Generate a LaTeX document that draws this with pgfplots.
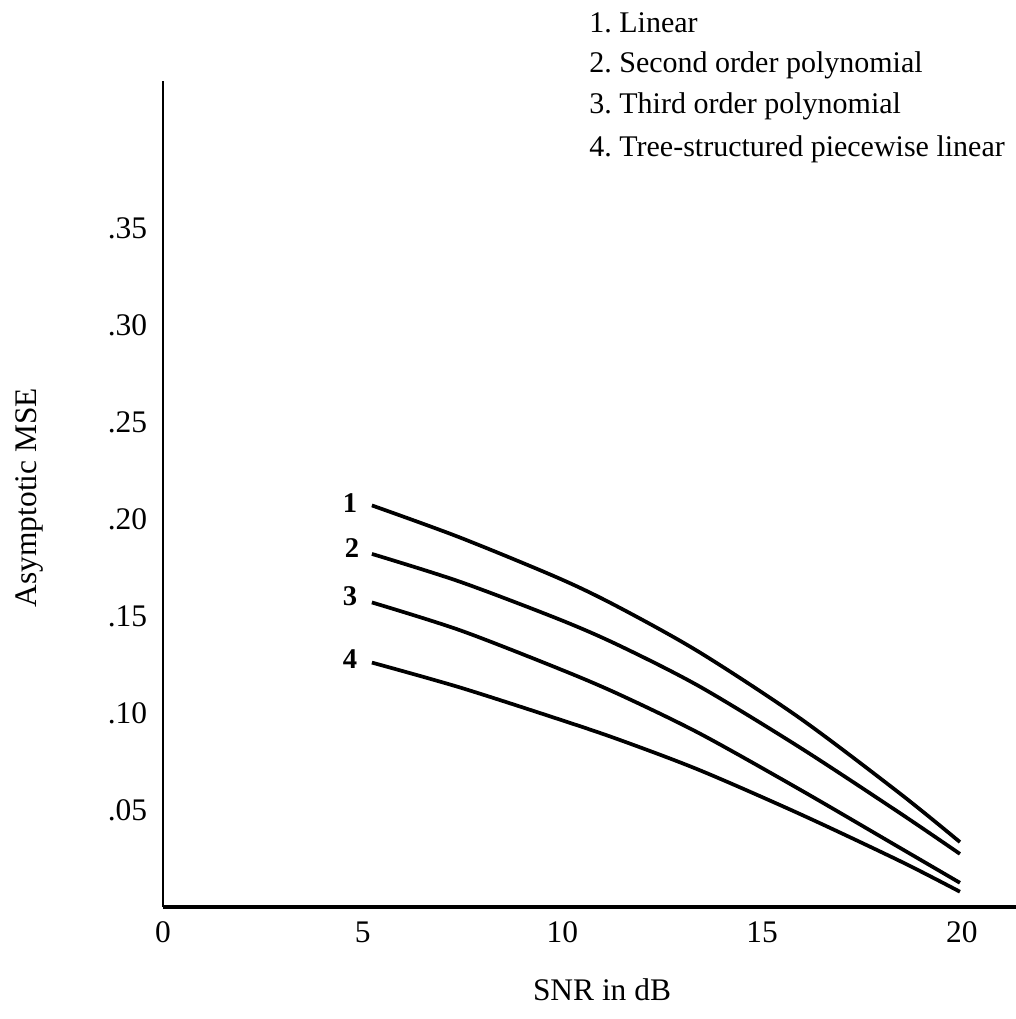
\documentclass[border=0pt]{standalone}
\usepackage{pgfplots}
\pgfplotsset{compat=1.18}
\usepackage{fontspec}
\setmainfont{Liberation Serif}
\frenchspacing
\begin{document}
\begin{tikzpicture}
\begin{axis}[
  x=13.98pt, y=679pt,
  xmin=0, xmax=21.35, ymin=0, ymax=0.426,
  axis x line=bottom, axis y line=left,
  x axis line style={line width=1.4pt,-},
  y axis line style={line width=1pt,-},
  every outer x axis line/.append style={-},
  every outer y axis line/.append style={-},
  major tick length=0pt,
  xtick={0,5,10,15,20},
  xticklabels={0,5,10,15,20},
  ytick={0.05,0.10,0.15,0.20,0.25,0.30,0.35},
  yticklabels={.05,.10,.15,.20,.25,.30,.35},
  tick label style={font=\fontsize{11}{13}\selectfont},
  yticklabel style={xshift=-2pt},
  xticklabel style={yshift=-1.5pt},
  clip=false,
]
\addplot[line width=1.3pt, smooth, tension=0.5] coordinates {
 (5.23,0.207) (7.43,0.1905) (9.94,0.1692) (11.44,0.1542) (13.44,0.1312) (15.94,0.0974) (18.45,0.0585) (19.95,0.0335)};
\addplot[line width=1.3pt, smooth, tension=0.5] coordinates {
 (5.23,0.182) (7.43,0.1677) (9.94,0.1481) (11.44,0.1346) (13.44,0.1136) (15.94,0.0823) (18.45,0.0484) (19.95,0.0274)};
\addplot[line width=1.3pt, smooth, tension=0.5] coordinates {
 (5.23,0.157) (7.43,0.1427) (9.94,0.1226) (11.44,0.1094) (13.44,0.0894) (15.94,0.0606) (18.45,0.0305) (19.95,0.0125)};
\addplot[line width=1.3pt, smooth, tension=0.5] coordinates {
 (5.23,0.126) (7.43,0.1132) (9.94,0.0966) (11.44,0.0861) (13.44,0.0705) (15.94,0.0480) (18.45,0.0237) (19.95,0.0079)};
\node[font=\fontsize{10}{12}\selectfont\bfseries] at (axis cs:4.68,0.208) {1};
\node[font=\fontsize{10}{12}\selectfont\bfseries] at (axis cs:4.73,0.185) {2};
\node[font=\fontsize{10}{12}\selectfont\bfseries] at (axis cs:4.68,0.160) {3};
\node[font=\fontsize{10}{12}\selectfont\bfseries] at (axis cs:4.68,0.128) {4};
\node[anchor=base west, inner sep=0pt, font=\fontsize{10.5}{13}\selectfont] at (axis cs:10.66,0.451) {1. Linear};
\node[anchor=base west, inner sep=0pt, font=\fontsize{10.5}{13}\selectfont] at (axis cs:10.66,0.430) {2. Second order polynomial};
\node[anchor=base west, inner sep=0pt, font=\fontsize{10.5}{13}\selectfont] at (axis cs:10.66,0.409) {3. Third order polynomial};
\node[anchor=base west, inner sep=0pt, font=\fontsize{10.5}{13}\selectfont] at (axis cs:10.66,0.387) {4. Tree-structured piecewise linear};
\node[rotate=90, font=\fontsize{11}{13}\selectfont] at (axis cs:-3.33,0.211) {Asymptotic MSE};
\node[font=\fontsize{11}{13}\selectfont] at (axis cs:10.99,-0.0428) {SNR in dB};
\coordinate (BL) at (axis cs:-4.08,-0.0577);
\coordinate (TR) at (axis cs:21.35,0.4675);
\end{axis}
\pgfresetboundingbox
\useasboundingbox (BL) rectangle (TR);
\end{tikzpicture}
\end{document}
